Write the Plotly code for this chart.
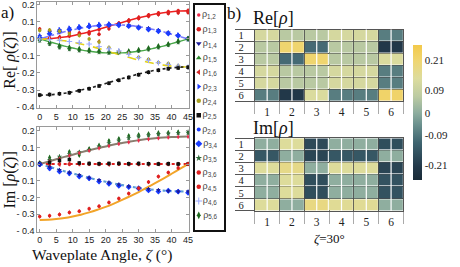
import plotly.graph_objects as go

# ---------------- data ----------------
ZETA = [0, 3, 6, 9, 12, 15, 18, 21, 24, 27, 30, 33, 36, 39, 42, 45]
ZETA_FIT = [0, 2.5, 5, 7.5, 10, 12.5, 15, 17.5, 20, 22.5, 25, 27.5, 30, 32.5, 35, 37.5, 40, 42.5, 45]

FIT_RE_RED = [0.000, 0.001, 0.005, 0.011, 0.019, 0.030, 0.041, 0.054, 0.068, 0.083, 0.097, 0.111, 0.124, 0.135, 0.146, 0.154, 0.160, 0.164, 0.165]
FIT_RE_BLUE = [0.000, 0.014, 0.028, 0.042, 0.053, 0.064, 0.072, 0.078, 0.082, 0.083, 0.082, 0.078, 0.072, 0.064, 0.053, 0.042, 0.028, 0.014, 0.000]
FIT_RE_GREEN = [0.000, -0.014, -0.028, -0.042, -0.053, -0.064, -0.072, -0.078, -0.082, -0.083, -0.082, -0.078, -0.072, -0.064, -0.053, -0.042, -0.028, -0.014, 0.000]
FIT_RE_YELLOW = [0.000, -0.001, -0.005, -0.011, -0.019, -0.030, -0.041, -0.054, -0.068, -0.083, -0.097, -0.111, -0.124, -0.135, -0.146, -0.154, -0.160, -0.164, -0.165]
FIT_RE_BLACK = [-0.330, -0.329, -0.325, -0.319, -0.311, -0.300, -0.289, -0.276, -0.262, -0.247, -0.233, -0.219, -0.206, -0.195, -0.184, -0.176, -0.170, -0.166, -0.165]

FIT_IM_BROWN = [0.000, 0.014, 0.029, 0.043, 0.056, 0.070, 0.083, 0.095, 0.106, 0.117, 0.126, 0.135, 0.143, 0.150, 0.155, 0.159, 0.162, 0.164, 0.165]
FIT_IM_ZERO = [0.0, 0.0, 0.0, 0.0, 0.0, 0.0, 0.0, 0.0, 0.0, 0.0, 0.0, 0.0, 0.0, 0.0, 0.0, 0.0, 0.0, 0.0, 0.0]
FIT_IM_BLUE = [0.000, -0.014, -0.029, -0.043, -0.056, -0.070, -0.083, -0.095, -0.106, -0.117, -0.126, -0.135, -0.143, -0.150, -0.155, -0.159, -0.162, -0.164, -0.165]
FIT_IM_ORANGE = [-0.335, -0.334, -0.330, -0.324, -0.315, -0.304, -0.290, -0.274, -0.257, -0.237, -0.215, -0.192, -0.168, -0.142, -0.115, -0.087, -0.058, -0.029, 0.000]

# measured Re[rho_ij]
RE_12 = [0.002, 0.003, 0.008, 0.016, 0.027, 0.040, 0.056, 0.073, 0.090, 0.107, 0.123, 0.137, 0.148, 0.157, 0.162, 0.164]
RE_13 = [0.058, 0.050, 0.045, 0.040, 0.035, 0.030, 0.028, 0.060, 0.088, 0.104, 0.120, 0.133, 0.143, 0.150, 0.153, 0.155]
RE_16 = [0.005, 0.010, 0.012, 0.020, 0.025, 0.035, -0.015, 0.072, 0.090, 0.108, 0.126, 0.140, 0.150, 0.157, 0.160, 0.162]
RE_36 = [0.002, 0.004, 0.010, 0.018, 0.028, 0.040, 0.055, 0.075, 0.092, 0.110, 0.125, 0.140, 0.152, 0.160, 0.165, 0.167]
RE_14 = [0.015, 0.040, 0.052, 0.060, 0.068, 0.075, 0.080, 0.085, 0.085, 0.080, 0.072, 0.063, 0.052, 0.038, 0.022, 0.003]
RE_23 = [0.020, 0.046, 0.056, 0.065, 0.074, 0.083, 0.088, 0.090, 0.088, 0.078, 0.068, 0.058, 0.048, 0.035, 0.025, 0.002]
RE_34 = [0.008, 0.030, 0.045, 0.055, 0.065, 0.072, 0.078, 0.082, 0.080, 0.075, 0.065, 0.055, 0.045, 0.032, 0.018, 0.000]
RE_15 = [-0.005, -0.025, -0.045, -0.055, -0.062, -0.068, -0.072, -0.077, -0.078, -0.075, -0.068, -0.058, -0.046, -0.033, -0.015, 0.000]
RE_35 = [-0.010, -0.030, -0.050, -0.060, -0.068, -0.074, -0.078, -0.082, -0.080, -0.078, -0.070, -0.062, -0.050, -0.036, -0.020, -0.003]
RE_56 = [0.000, -0.020, -0.040, -0.050, -0.058, -0.065, -0.070, -0.074, -0.075, -0.072, -0.064, -0.054, -0.042, -0.030, -0.012, 0.002]
RE_24 = [0.050, 0.052, 0.045, 0.030, 0.020, 0.000, -0.018, -0.050, -0.074, -0.085, -0.108, -0.120, -0.138, -0.145, -0.157, -0.167]
RE_46 = [0.000, -0.003, -0.008, -0.015, -0.022, -0.030, -0.045, -0.058, -0.070, -0.090, -0.110, -0.125, -0.140, -0.150, -0.160, -0.166]
RE_25 = [-0.330, -0.327, -0.322, -0.316, -0.305, -0.292, -0.276, -0.260, -0.243, -0.226, -0.210, -0.196, -0.184, -0.175, -0.170, -0.167]

# measured Im[rho_ij]
IM_56 = [0.005, 0.038, 0.036, 0.072, 0.055, 0.090, 0.110, 0.138, 0.150, 0.168, 0.174, 0.180, 0.185, 0.187, 0.190, 0.190]
IM_35 = [0.002, 0.025, 0.045, 0.060, 0.072, 0.085, 0.105, 0.125, 0.140, 0.155, 0.165, 0.172, 0.178, 0.182, 0.186, 0.188]
IM_12 = [0.000, 0.015, 0.032, 0.050, 0.066, 0.080, 0.095, 0.108, 0.121, 0.131, 0.141, 0.149, 0.155, 0.160, 0.163, 0.164]
IM_13 = [0.000, -0.002, 0.001, -0.001, 0.002, 0.000, -0.001, 0.001, 0.000, 0.001, -0.001, 0.000, 0.001, -0.001, 0.000, 0.000]
IM_16 = [-0.003, 0.002, -0.002, 0.003, -0.001, 0.002, 0.001, -0.002, 0.002, -0.001, 0.001, -0.002, 0.000, 0.001, -0.001, 0.001]
IM_25 = [0.004, 0.010, 0.022, 0.028, 0.006, 0.003, 0.002, 0.003, 0.004, 0.002, 0.003, 0.002, 0.001, 0.002, 0.001, 0.001]
IM_26 = [-0.005, -0.030, -0.040, -0.060, -0.070, -0.088, -0.100, -0.115, -0.125, -0.135, -0.148, -0.152, -0.160, -0.163, -0.168, -0.170]
IM_34 = [-0.002, -0.025, -0.045, -0.055, -0.075, -0.085, -0.105, -0.118, -0.130, -0.138, -0.146, -0.158, -0.165, -0.160, -0.165, -0.172]
IM_14 = [-0.004, -0.018, -0.035, -0.050, -0.066, -0.082, -0.096, -0.110, -0.122, -0.133, -0.142, -0.150, -0.156, -0.161, -0.164, -0.165]
IM_45 = [-0.315, -0.310, -0.302, -0.290, -0.283, -0.268, -0.253, -0.230, -0.207, -0.177, -0.145, -0.108, -0.075, -0.051, -0.023, 0.000]

ERR = 0.012

LEGEND_NAMES = ["1,2", "1,3", "1,4", "1,5", "1,6", "2,3", "2,4", "2,5", "2,6",
                "3,4", "3,5", "3,6", "4,5", "4,6", "5,6"]

X_TICKS = [0, 5, 10, 15, 20, 25, 30, 35, 40, 45]
Y_TICKS = [-0.4, -0.3, -0.2, -0.1, 0.0, 0.1, 0.2]
Y_TICKTEXT = ["- 0.4", "- 0.3", "- 0.2", "- 0.1", "0.0", "0.1", "0.2"]

# density matrix at zeta = 30 deg
MAT_ROWS = [1, 2, 3, 4, 5, 6]
MAT_COLS = [1, 2, 3, 4, 5, 6]
RE_RHO = [
    [0.12, 0.06, 0.06, 0.12, 0.12, -0.08],
    [0.06, 0.21, -0.11, 0.06, 0.06, -0.22],
    [0.06, -0.11, 0.21, 0.06, 0.06, 0.13],
    [0.12, 0.06, 0.06, 0.12, 0.12, -0.08],
    [0.12, 0.06, 0.06, 0.12, 0.12, -0.08],
    [-0.08, -0.22, 0.13, -0.08, -0.08, 0.22],
]
IM_RHO = [
    [0.00, 0.14, -0.18, 0.00, 0.00, -0.17],
    [-0.15, 0.00, -0.19, -0.15, -0.15, 0.00],
    [0.14, 0.17, 0.00, 0.14, 0.14, -0.19],
    [0.00, 0.14, -0.17, 0.00, 0.00, -0.16],
    [0.00, 0.14, -0.17, 0.00, 0.00, -0.16],
    [0.14, 0.00, 0.18, 0.15, 0.15, 0.00],
]
CBAR_TICKS = [0.21, 0.09, 0, -0.09, -0.21]
CBAR_TEXT = ["0.21", "0.09", "0", "-0.09", "-0.21"]

# ---------------- styles ----------------
STYLE = {
    "1,2": dict(symbol="circle", color="#ee2a4a", size=2.5),
    "1,3": dict(symbol="circle", color="#d81e1e", size=3.5),
    "1,4": dict(symbol="triangle-down", color="#1c1c9a", size=4),
    "1,5": dict(symbol="triangle-up", color="#2f8a2f", size=4),
    "1,6": dict(symbol="triangle-left", color="#d42828", size=4),
    "2,3": dict(symbol="triangle-right", color="#1f3cff", size=4),
    "2,4": dict(symbol="circle", color="#a8a020", size=3.5),
    "2,5": dict(symbol="square", color="#111111", size=3.5),
    "2,6": dict(symbol="circle", color="#1a3cff", size=3),
    "3,4": dict(symbol="diamond", color="#1a3cff", size=4.5),
    "3,5": dict(symbol="star", color="#2f6a3a", size=4),
    "3,6": dict(symbol="circle", color="#e02020", size=3.5),
    "4,5": dict(symbol="circle", color="#e02020", size=3.5),
    "4,6": dict(symbol="cross-thin-open", color="#9aa8ff", size=4),
    "5,6": dict(symbol="diamond-tall", color="#1f6a1f", size=4.5),
}

RE_SERIES = [("1,2", RE_12), ("1,3", RE_13), ("1,6", RE_16), ("3,6", RE_36),
             ("1,4", RE_14), ("2,3", RE_23), ("3,4", RE_34),
             ("1,5", RE_15), ("3,5", RE_35), ("5,6", RE_56),
             ("2,4", RE_24), ("4,6", RE_46), ("2,5", RE_25)]
IM_SERIES = [("5,6", IM_56), ("3,5", IM_35), ("1,2", IM_12),
             ("1,3", IM_13), ("1,6", IM_16), ("2,5", IM_25),
             ("2,6", IM_26), ("3,4", IM_34), ("1,4", IM_14), ("4,5", IM_45)]

RE_FITS = [(FIT_RE_RED, "#ee2020", "solid", 1.6), (FIT_RE_BLUE, "#7a7aff", "dashdot", 1.6),
           (FIT_RE_GREEN, "#49a84a", "solid", 1.4), (FIT_RE_YELLOW, "#e2d21a", "dash", 1.6),
           (FIT_RE_BLACK, "#222222", "dot", 1.6)]
IM_FITS = [(FIT_IM_BROWN, "#8a7e70", "solid", 2), (FIT_IM_ZERO, "#e02020", "dot", 2),
           (FIT_IM_BLUE, "#5d9fd8", "dot", 2.2), (FIT_IM_ORANGE, "#f2a428", "solid", 2)]

fig = go.Figure()

for ax, fits in (("", RE_FITS), ("2", IM_FITS)):
    for vals, col, dash, w in fits:
        fig.add_trace(go.Scatter(x=ZETA_FIT, y=vals, mode="lines", line=dict(color=col, dash=dash, width=w, shape="spline"),
                                 xaxis="x" + ax, yaxis="y" + ax, showlegend=False, hoverinfo="skip"))

for ax, series in (("", RE_SERIES), ("2", IM_SERIES)):
    for name, vals in series:
        st = STYLE[name]
        fig.add_trace(go.Scatter(
            x=ZETA, y=vals, mode="markers", name="ρ" + name,
            marker=dict(symbol=st["symbol"], color=st["color"], size=st["size"],
                        line=dict(width=1 if "open" in st["symbol"] else 0, color=st["color"])),
            error_y=dict(type="constant", value=ERR, color=st["color"], thickness=1, width=0),
            xaxis="x" + ax, yaxis="y" + ax, showlegend=False))

# manual legend panel
for i, name in enumerate(LEGEND_NAMES):
    st = STYLE[name]
    fig.add_trace(go.Scatter(
        x=[0.12], y=[i], mode="markers+text", text=["ρ<sub>" + name + "</sub>"],
        textposition="middle right",
        textfont=dict(family="Liberation Sans", size=9, color="#444"),
        marker=dict(symbol=st["symbol"], color=st["color"], size=st["size"] + 1,
                    line=dict(width=1 if "open" in st["symbol"] else 0, color=st["color"])),
        xaxis="x5", yaxis="y5", showlegend=False, hoverinfo="skip"))

# heatmaps
for ax, mat in (("3", RE_RHO), ("4", IM_RHO)):
    fig.add_trace(go.Heatmap(x=MAT_COLS, y=MAT_ROWS, z=mat, coloraxis="coloraxis",
                             xgap=1, ygap=1, xaxis="x" + ax, yaxis="y" + ax, hoverinfo="skip"))
    for c in MAT_COLS:
        fig.add_shape(type="line", xref="x" + ax, yref="y" + ax + " domain", x0=c, x1=c, y0=0, y1=1,
                      line=dict(color="white", width=1.2), layer="above")

TICKFONT = dict(family="Liberation Sans", size=9, color="#222")
SERIF = "Liberation Serif"

line_x = dict(range=[-0.7, 45.3], tickvals=X_TICKS, showline=True, mirror="allticks", linecolor="#9a9a9a",
              linewidth=1, ticks="inside", ticklen=3, tickcolor="#9a9a9a", showgrid=False, zeroline=False,
              tickfont=TICKFONT)
line_y = dict(tickvals=Y_TICKS, ticktext=Y_TICKTEXT, showline=True, mirror="allticks", linecolor="#9a9a9a",
              linewidth=1, ticks="inside", ticklen=3, tickcolor="#9a9a9a", showgrid=False, zeroline=False,
              tickfont=TICKFONT)

BOUNDS = [0.5, 1.5, 2.5, 3.5, 4.5, 5.5, 6.5]
heat_x = dict(range=[0.5, 6.5], tickvals=MAT_COLS, ticks="", showgrid=False, zeroline=False,
              showline=True, mirror=True, linecolor="#555", linewidth=1,
              tickfont=dict(family=SERIF, size=11.5, color="#222"),
              minor=dict(tickmode="array", tickvals=BOUNDS, ticks="outside", ticklen=12, tickcolor="#aaa",
                         tickwidth=1, showgrid=True, gridcolor="#4a4a4a", gridwidth=1))
heat_y = dict(range=[6.5, 0.5], tickvals=MAT_ROWS, ticks="", showgrid=False, zeroline=False,
              showline=True, mirror=True, linecolor="#555", linewidth=1, ticklabelstandoff=8,
              tickfont=dict(family=SERIF, size=10.5, color="#222"),
              minor=dict(tickmode="array", tickvals=BOUNDS, ticks="outside", ticklen=19, tickcolor="#555",
                         tickwidth=1, showgrid=True, gridcolor="#4a4a4a", gridwidth=1))

fig.update_layout(
    width=460, height=267, margin=dict(l=0, r=0, t=0, b=0),
    paper_bgcolor="white", plot_bgcolor="white", showlegend=False,
    xaxis=dict(domain=[0.082, 0.4146], anchor="y", **line_x),
    yaxis=dict(domain=[0.592, 0.9963], anchor="x", range=[-0.405, 0.217], **line_y),
    xaxis2=dict(domain=[0.082, 0.4146], anchor="y2", **line_x),
    yaxis2=dict(domain=[0.1199, 0.5195], anchor="x2", range=[-0.405, 0.223], **line_y),
    xaxis3=dict(domain=[0.5587, 0.8848], anchor="y3", **heat_x),
    yaxis3=dict(domain=[0.618, 0.891], anchor="x3", **heat_y),
    xaxis4=dict(domain=[0.5587, 0.8848], anchor="y4", **heat_x),
    yaxis4=dict(domain=[0.1985, 0.4757], anchor="x4", **heat_y),
    xaxis5=dict(domain=[0.4283, 0.4913], anchor="y5", range=[0, 1], showticklabels=False, ticks="",
                showgrid=False, zeroline=False, showline=True, mirror=True, linecolor="#111", linewidth=1.5),
    yaxis5=dict(domain=[0.1273, 0.985], anchor="x5", range=[15.0, -0.7], showticklabels=False, ticks="",
                showgrid=False, zeroline=False, showline=True, mirror=True, linecolor="#111", linewidth=1.5),
    coloraxis=dict(
        cmin=-0.27, cmax=0.27,
        colorscale=[[0, "#1a2b38"], [0.1, "#23394a"], [0.28, "#3f6570"], [0.42, "#6f9490"],
                    [0.5, "#8fae9f"], [0.62, "#bccba2"], [0.75, "#dcdc9e"], [0.88, "#efd672"],
                    [1, "#f3c94a"]],
        colorbar=dict(x=417 / 460, xanchor="left", xpad=0, ypad=0, y=0.573, yanchor="middle",
                      len=0.517, lenmode="fraction",
                      thickness=9, outlinewidth=0, tickvals=CBAR_TICKS, ticktext=CBAR_TEXT, ticks="",
                      tickfont=dict(family=SERIF, size=11, color="#222")),
    ),
)

ann = [
    dict(text="a)", x=8 / 460, y=1 - 12 / 267, size=17),
    dict(text="b)", x=236 / 460, y=1 - 13 / 267, size=17),
    dict(text="Re[<i>ρ</i>]", x=276 / 460, y=1 - 17 / 267, size=18),
    dict(text="Im[<i>ρ</i>]", x=276 / 460, y=1 - 129 / 267, size=18),
    dict(text="<i>ζ</i>=30°", x=332 / 460, y=1 - 242 / 267, size=13),
    dict(text="Waveplate Angle, <i>ζ</i> (°)", x=103 / 460, y=1 - 258.5 / 267, size=15.5),
]
for a in ann:
    fig.add_annotation(text=a["text"], x=a["x"], y=a["y"], xref="paper", yref="paper",
                       showarrow=False, xanchor="center", yanchor="middle",
                       font=dict(family=SERIF, size=a["size"], color="#111"))
for txt, yc in (("Re[ <i>ρ</i>(<i>ζ</i>)]", 60), ("Im [<i>ρ</i>(<i>ζ</i>)]", 182)):
    fig.add_annotation(text=txt, x=10 / 460, y=1 - yc / 267, xref="paper", yref="paper", textangle=-90,
                       showarrow=False, xanchor="center", yanchor="middle",
                       font=dict(family=SERIF, size=16, color="#111"))

fig.write_html("out.html", config={"displayModeBar": False},
               post_script="document.body.style.margin='0';document.body.style.overflow='hidden';")
